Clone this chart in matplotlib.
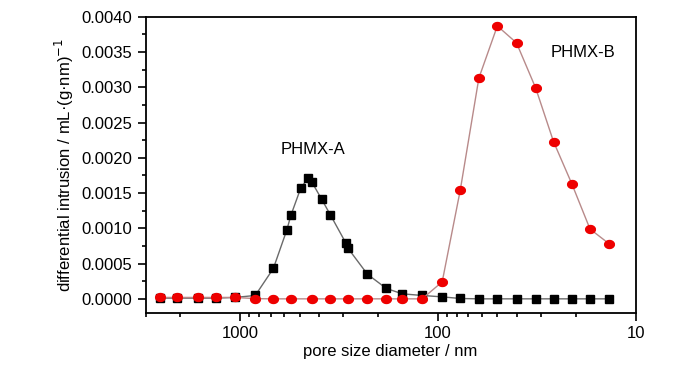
import numpy as np
import matplotlib
matplotlib.use("Agg")
import matplotlib.pyplot as plt
from matplotlib.ticker import LogLocator, FuncFormatter, MultipleLocator, NullFormatter

plt.rcParams['font.family'] = ['Liberation Sans', 'DejaVu Sans']

# PHMX-A (black squares)
d_a = [2541, 2090, 1626, 1323, 1057, 837, 678, 580, 552, 493, 451, 432, 386, 349,
       292, 284, 227, 182, 151, 120, 95, 77, 62, 50, 40, 32, 26, 21, 17, 13.6]
v_a = [0.00001, 0.00001, 0.00001, 0.00001, 0.00002, 0.000048, 0.000431, 0.000975,
       0.00119, 0.00157, 0.00172, 0.00165, 0.00141, 0.00119, 0.000795, 0.000715,
       0.00035, 0.000147, 0.000071, 0.000048, 0.000028, 0.000005, 0.0, 0.0, 0.0,
       0.0, 0.0, 0.0, 0.0, 0.0]

# PHMX-B (red circles)
d_b = [2541, 2090, 1626, 1323, 1057, 837, 678, 553, 432, 349, 284, 227, 182, 151,
       120, 95, 77, 62, 50, 40, 32, 26, 21, 17, 13.6]
v_b = [0.00002, 0.00002, 0.00002, 0.00002, 0.00002, 0.000003, 0.0, 0.0, 0.0, 0.0,
       0.0, 0.0, 0.0, 0.0, 0.0, 0.000241, 0.00154, 0.00313, 0.00387, 0.00363,
       0.00299, 0.00223, 0.00163, 0.00099, 0.00078]

# slightly flattened circle, like the original
t = np.linspace(0, 2 * np.pi, 40)
ellipse = np.column_stack([np.cos(t), 0.82 * np.sin(t)])

fig = plt.figure(figsize=(7, 3.73), dpi=100)
ax = fig.add_axes([0.208, 0.161, 0.700, 0.794])

ax.plot(d_a, v_a, color="#6a6a6a", lw=1.0, marker="s", ms=5.2,
        mfc="black", mec="black", zorder=3)
ax.plot(d_b, v_b, color="#b88a8a", lw=1.0, marker=ellipse, ms=7,
        mfc="#ee0000", mec="#ee0000", zorder=4)

ax.set_xscale("log")
ax.set_xlim(3000, 10)
ax.set_ylim(-0.0002, 0.004)

ax.xaxis.set_major_locator(LogLocator(base=10, numticks=10))
ax.xaxis.set_minor_locator(LogLocator(base=10, subs=np.arange(2, 10), numticks=10))
ax.xaxis.set_major_formatter(FuncFormatter(lambda v, p: f"{v:g}"))
ax.xaxis.set_minor_formatter(NullFormatter())
ax.yaxis.set_major_locator(MultipleLocator(0.0005))
ax.yaxis.set_minor_locator(MultipleLocator(0.00025))
ax.yaxis.set_major_formatter(FuncFormatter(lambda v, p: f"{v:.4f}"))

ax.tick_params(which="both", direction="out", top=False, right=False,
               labelsize=12, width=1.2, colors="black")
ax.tick_params(which="major", length=6)
ax.tick_params(which="minor", length=3)
for s in ax.spines.values():
    s.set_linewidth(1.3)

ax.set_xlabel("pore size diameter / nm", fontsize=12, labelpad=2)
ax.set_ylabel("differential intrusion / mL·(g·nm)$^{-1}$", fontsize=12, labelpad=4)

ax.text(428, 0.00212, "PHMX-A", fontsize=12, ha="center", va="center")
ax.text(18.5, 0.0035, "PHMX-B", fontsize=12, ha="center", va="center")

fig.savefig("out.png", dpi=100)
